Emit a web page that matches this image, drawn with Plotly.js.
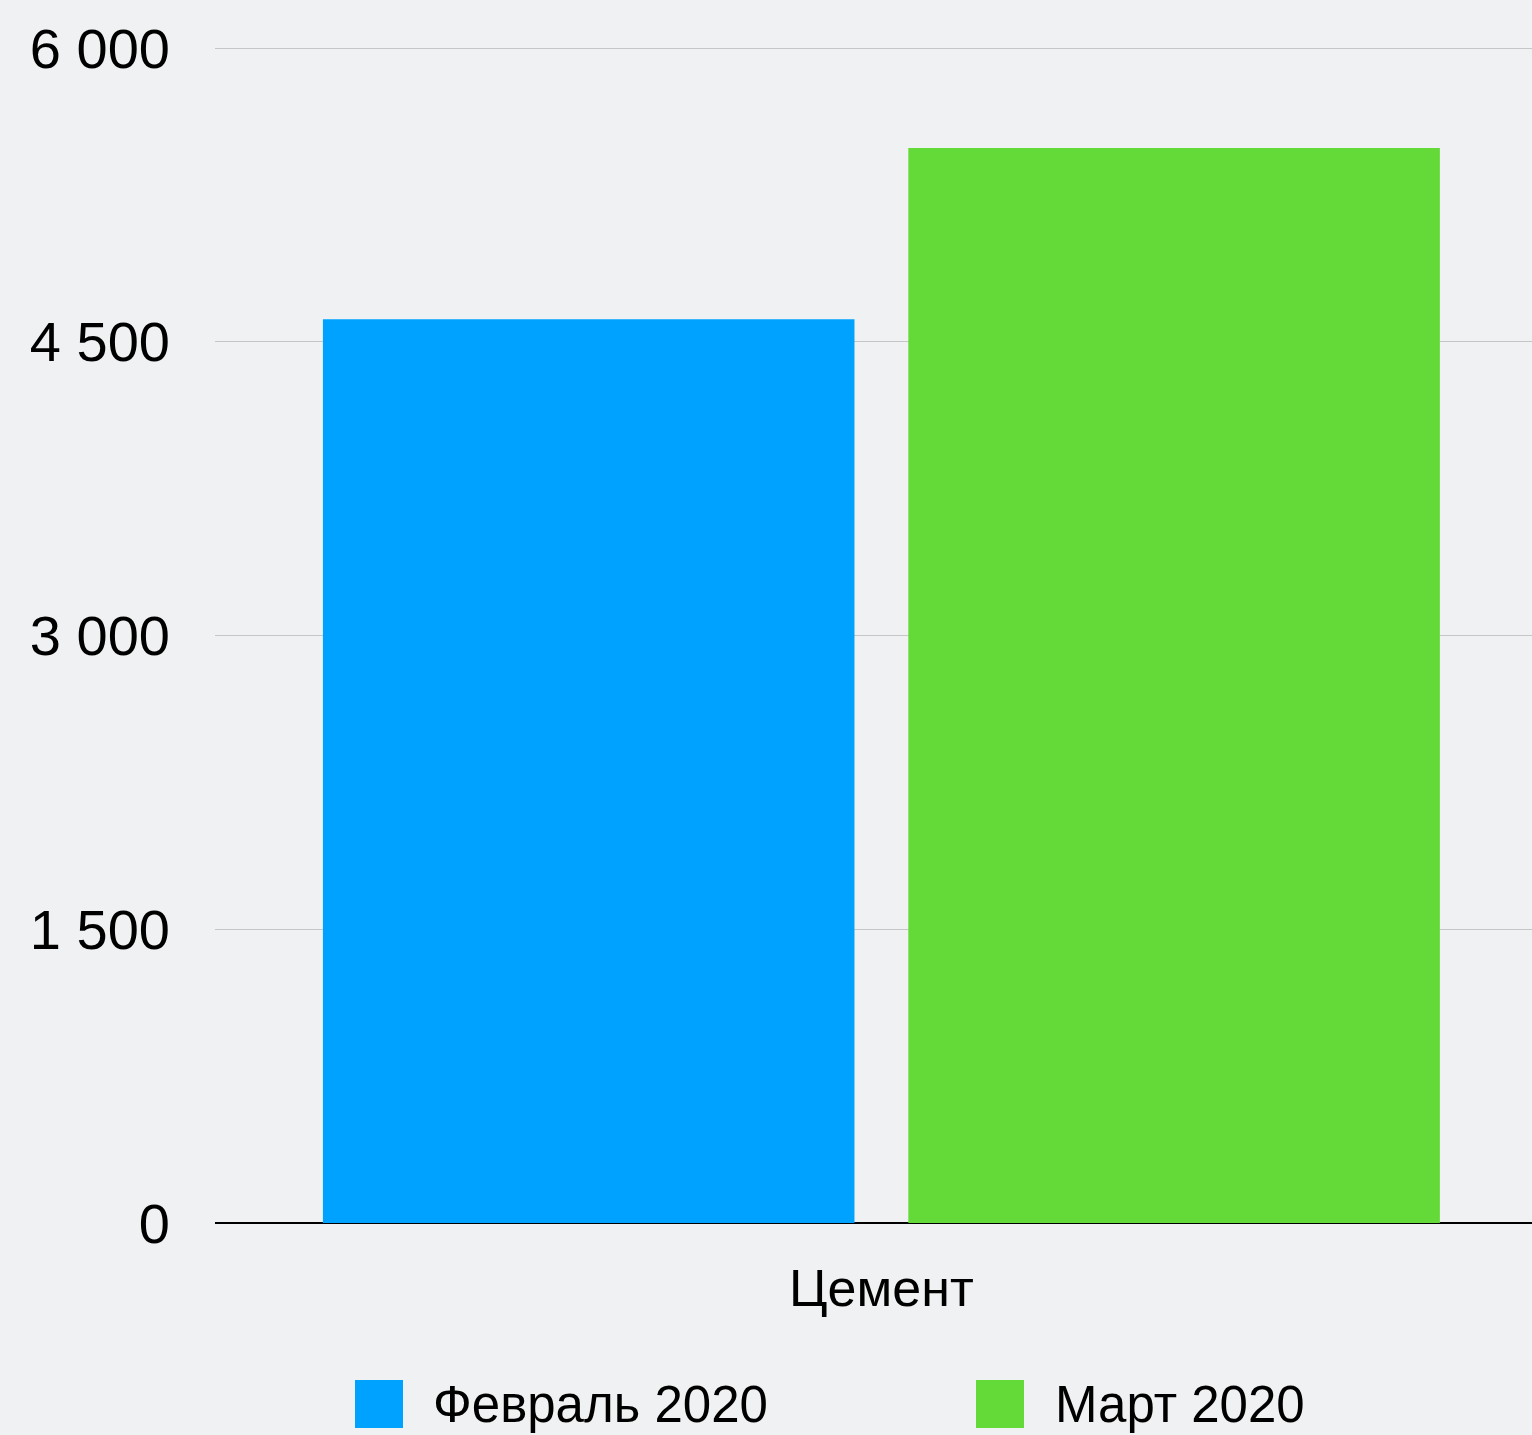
<!DOCTYPE html>
<html>
<head>
<meta charset="utf-8">
<script src="https://cdn.plot.ly/plotly-3.0.1.min.js"></script>
<style>
  html, body { margin: 0; padding: 0; background: #f0f1f2; }
  #chart { width: 1532px; height: 1435px; }
</style>
</head>
<body>
<div id="chart"></div>
<script>
const categories = ['Цемент'];
const seriesNames = ['Февраль 2020', 'Март 2020'];
const febValues = [4615];
const marValues = [5490];
const seriesColors = ['#00a2ff', '#63da38'];
const yTicks = [0, 1500, 3000, 4500, 6000];

const FONT = '"Liberation Sans", Arial, Helvetica, sans-serif';

const traces = [
  { type: 'bar', name: seriesNames[0], x: categories, y: febValues,
    marker: { color: seriesColors[0] }, showlegend: false, hoverinfo: 'none' },
  { type: 'bar', name: seriesNames[1], x: categories, y: marValues,
    marker: { color: seriesColors[1] }, showlegend: false, hoverinfo: 'none' }
];

// custom legend in paper coords (plot area: x 215..1532, y 47..1223)
const L = 215, R = 1532, T = 47, B = 1223;
const px = v => (v - L) / (R - L);
const py = v => (B - v) / (B - T);
const legendItems = [
  { sq: 355, txt: 431 },
  { sq: 976, txt: 1053 }
];
const shapes = [];
const annotations = [];
legendItems.forEach((it, i) => {
  shapes.push({ type: 'rect', xref: 'paper', yref: 'paper',
    x0: px(it.sq), x1: px(it.sq + 48), y0: py(1428), y1: py(1380),
    fillcolor: seriesColors[i], line: { width: 0 } });
  annotations.push({ xref: 'paper', yref: 'paper', x: px(it.txt), y: py(1405),
    xanchor: 'left', yanchor: 'middle', showarrow: false, text: seriesNames[i],
    font: { family: FONT, size: 51, color: '#000' } });
});

const layout = {
  width: 1532, height: 1435,
  margin: { l: 215, r: 0, t: 47, b: 212 },
  paper_bgcolor: '#f0f1f2', plot_bgcolor: 'rgba(0,0,0,0)',
  barmode: 'group', bargap: 0.111, bargroupgap: 0.092,
  separators: ', ',
  font: { family: FONT, color: '#000' },
  xaxis: {
    type: 'category', range: [-0.506, 0.494],
    showgrid: false, showline: false, zeroline: false, ticks: '',
    tickfont: { family: FONT, size: 52, color: '#000' },
    ticklabelstandoff: 30
  },
  yaxis: {
    range: [0, 6006], tickvals: yTicks, tickformat: ',d',
    showgrid: true, gridcolor: '#c6c6c6', gridwidth: 1,
    zeroline: true, zerolinecolor: '#000', zerolinewidth: 2,
    showline: false, ticks: '',
    tickfont: { family: FONT, size: 56, color: '#000' },
    ticklabelstandoff: 44
  },
  shapes: shapes,
  annotations: annotations,
  showlegend: false
};

Plotly.newPlot('chart', traces, layout, { displayModeBar: false, staticPlot: true });
</script>
</body>
</html>
